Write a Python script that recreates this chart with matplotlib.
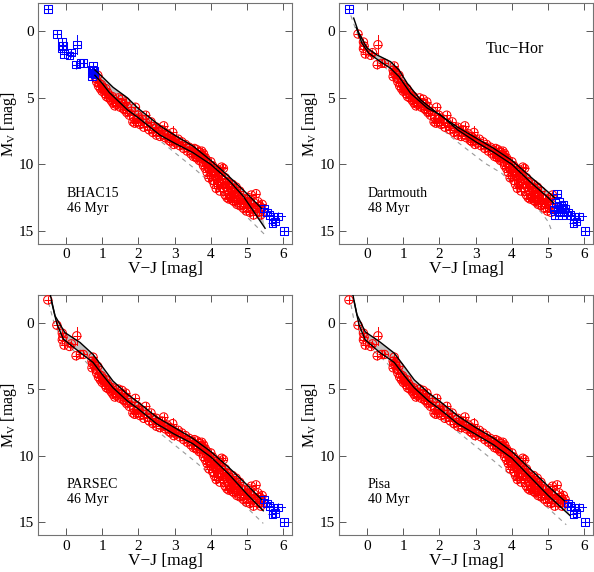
import numpy as np
import matplotlib
matplotlib.use('Agg')
import matplotlib.pyplot as plt

plt.rcParams['font.family'] = ['Liberation Serif', 'DejaVu Serif']
plt.rcParams['mathtext.fontset'] = 'custom'
plt.rcParams['mathtext.rm'] = 'Liberation Serif'
plt.rcParams['mathtext.it'] = 'Liberation Serif'

# Tuc-Hor members: (V-J, M_V)
STARS = [
    (-0.50, -1.7), (-0.25, 0.2), (-0.10, 0.8), (-0.08, 1.1), (-0.10, 1.3),
    (-0.05, 1.7), (0.10, 1.8), (0.15, 1.6), (0.30, 1.0), (0.28, 2.5),
    (0.40, 2.4), (0.48, 2.4), (0.75, 2.6), (0.72, 2.9), (0.74, 3.1),
    (0.78, 3.0), (0.72, 3.4), (0.79, 3.2),
    (0.82, 3.5), (0.85, 3.8), (0.88, 3.3), (0.90, 4.1), (0.92, 3.9),
    (0.95, 4.3), (0.98, 4.0), (1.00, 4.5), (1.02, 4.2), (1.05, 4.4),
    (1.08, 4.7), (1.10, 4.3), (1.12, 4.9), (1.15, 4.6), (1.18, 5.0),
    (1.20, 4.8), (1.25, 5.2), (1.28, 4.9), (1.30, 5.4), (1.32, 5.1),
    (1.35, 5.6), (1.38, 5.3), (1.40, 5.5), (1.45, 5.0), (1.50, 5.7),
    (1.52, 5.4), (1.55, 5.1), (1.58, 5.8), (1.60, 5.5), (1.62, 5.9),
    (1.65, 5.3), (1.68, 6.1), (1.70, 5.7), (1.75, 6.3), (1.80, 6.0),
    (1.85, 6.8), (1.88, 6.5), (1.90, 6.9), (1.92, 5.7), (1.95, 6.6),
    (1.98, 6.3), (2.00, 6.8), (2.02, 6.5), (2.05, 7.0), (2.10, 6.6),
    (2.15, 7.2), (2.20, 6.3), (2.22, 6.9), (2.25, 7.1), (2.30, 7.4),
    (2.35, 6.8), (2.40, 7.6), (2.45, 7.3), (2.50, 7.2), (2.50, 7.8),
    (2.55, 7.5), (2.60, 7.9), (2.65, 7.4), (2.70, 7.1), (2.72, 7.8),
    (2.75, 8.0), (2.80, 7.7), (2.85, 8.2), (2.88, 7.9), (2.90, 8.3),
    (2.92, 8.0), (2.95, 7.6), (2.98, 8.5), (3.00, 8.2), (3.05, 8.4),
    (3.10, 8.1), (3.15, 8.6), (3.20, 8.3), (3.25, 8.8), (3.30, 8.5),
    (3.35, 9.0), (3.40, 8.7), (3.45, 9.2), (3.48, 8.9), (3.50, 9.0),
    (3.52, 9.4), (3.55, 8.8), (3.58, 9.2), (3.60, 9.5), (3.62, 8.9),
    (3.65, 9.3), (3.68, 9.7), (3.70, 9.1), (3.72, 9.5), (3.75, 9.8),
    (3.75, 9.0), (3.78, 9.4), (3.80, 10.1), (3.80, 9.2), (3.82, 9.6),
    (3.85, 10.3), (3.85, 9.5), (3.88, 9.9), (3.90, 10.6), (3.90, 9.7),
    (3.92, 10.2), (3.95, 10.0), (3.95, 11.0), (3.98, 10.4), (4.00, 10.8),
    (4.00, 9.8), (4.02, 10.5), (4.05, 11.2), (4.05, 10.1), (4.08, 10.7),
    (4.10, 11.5), (4.10, 10.3), (4.12, 10.9), (4.15, 11.8), (4.15, 10.6),
    (4.18, 11.1), (4.20, 10.4), (4.20, 11.6), (4.22, 10.8), (4.25, 11.3),
    (4.25, 12.0), (4.28, 10.9), (4.30, 11.5), (4.30, 10.2), (4.32, 11.1),
    (4.35, 11.8), (4.35, 10.3), (4.38, 11.4), (4.40, 12.3), (4.40, 11.0),
    (4.42, 11.7), (4.45, 12.5), (4.45, 11.3), (4.48, 12.0), (4.50, 11.6),
    (4.50, 12.6), (4.52, 12.2), (4.55, 11.8), (4.55, 12.5), (4.58, 12.0),
    (4.60, 11.5), (4.60, 12.7), (4.62, 12.3), (4.65, 11.9), (4.65, 12.8),
    (4.68, 12.1), (4.70, 12.5), (4.70, 11.7), (4.72, 13.0), (4.75, 12.3),
    (4.78, 12.7), (4.80, 12.0), (4.80, 13.1), (4.85, 12.5), (4.88, 12.9),
    (4.90, 13.3), (4.92, 12.6), (4.95, 13.0), (4.98, 13.5), (5.00, 12.8),
    (5.02, 13.2), (5.05, 12.5), (5.08, 13.6), (5.10, 13.0), (5.12, 12.3),
    (5.15, 13.4), (5.18, 13.8), (5.20, 12.9), (5.25, 12.2), (5.28, 13.3),
    (5.30, 12.8), (5.32, 13.6), (5.35, 13.1), (5.38, 13.8), (5.40, 13.4),
    (5.42, 13.0), (5.47, 13.3), (5.55, 13.6), (5.62, 13.8), (5.70, 14.4),
    (5.72, 13.9), (5.78, 14.3), (5.85, 13.9), (6.02, 15.0),
]

# stars with visible error bars: (V-J, M_V, err V-J, err M_V)
ERRBARS = [(0.30, 1.0, 0.0, 0.7), (0.15, 1.6, 0.12, 0.0),
           (2.95, 7.6, 0.0, 0.45), (5.85, 13.9, 0.2, 0.0),
           (2.05, 7.0, 0.12, 0.0)]

# model isochrones: upper / lower black curves, dashed gray ZAMS
BHAC_UP = [(0.8, 2.9), (1.0, 3.4), (1.3, 4.2), (1.7, 5.0), (2.0, 5.8),
           (2.6, 7.1), (3.0, 7.8), (3.5, 8.6), (4.0, 9.7), (4.5, 10.9),
           (5.0, 12.2), (5.4, 13.3)]
BHAC_LO = [(0.8, 3.3), (1.0, 3.9), (1.2, 4.6), (1.7, 5.9), (2.0, 6.5),
           (2.6, 7.8), (3.0, 8.4), (3.5, 9.1), (4.0, 10.0), (4.5, 11.2),
           (4.9, 12.4), (5.2, 13.6), (5.5, 14.8)]
BHAC_ZAMS = [(1.0, 4.3), (1.7, 6.2), (2.5, 8.0), (3.5, 10.2), (4.5, 12.6),
             (5.5, 15.3)]

DART_UP = [(-0.37, -1.0), (-0.23, 0.1), (0.0, 1.25), (0.28, 1.78),
           (0.65, 2.28), (0.88, 2.9), (1.11, 3.9), (1.48, 5.15), (1.94, 6.15),
           (2.5, 7.2), (3.0, 8.0), (3.5, 8.8), (4.0, 9.7), (4.5, 10.9),
           (5.18, 12.5)]
DART_LO = [(-0.3, -0.3), (-0.14, 0.9), (0.05, 1.65), (0.37, 2.28),
           (0.65, 2.78), (0.88, 3.4), (1.2, 4.65), (1.67, 5.78), (2.03, 6.28),
           (2.5, 7.4), (3.0, 8.3), (3.5, 9.1), (4.0, 10.0), (4.5, 11.3),
           (5.0, 12.5), (5.15, 12.9)]
DART_ZAMS = [(-0.45, -1.2), (-0.2, 0.7), (0.1, 1.9), (0.5, 2.7), (1.0, 4.4),
             (1.7, 6.5), (2.42, 8.15), (3.25, 9.9), (3.71, 10.65),
             (4.0, 11.4), (4.5, 12.7), (4.82, 13.65), (5.0, 14.3),
             (5.1, 15.0)]

PARS_UP = [(-0.44, -2.2), (-0.30, -0.5), (-0.03, 0.75), (0.39, 1.5),
           (0.75, 2.4), (1.0, 3.3), (1.3, 4.4), (1.7, 5.4), (2.0, 6.0),
           (2.5, 7.1), (3.0, 7.9), (3.5, 8.7), (4.0, 9.7), (4.5, 10.9),
           (5.0, 12.2), (5.4, 13.3)]
PARS_LO = [(-0.40, -1.6), (-0.25, 0.1), (-0.07, 1.25), (0.39, 2.25),
           (0.75, 3.0), (1.03, 4.0), (1.3, 4.9), (1.7, 5.9), (2.0, 6.5),
           (2.5, 7.6), (3.0, 8.4), (3.5, 9.1), (4.0, 10.1), (4.5, 11.4),
           (5.0, 12.9), (5.45, 14.15)]
PARS_ZAMS = [(-0.48, -1.5), (-0.3, 0.3), (0.0, 1.6), (0.5, 2.8), (1.0, 4.3),
             (1.7, 6.3), (2.5, 8.1), (3.5, 10.3), (4.5, 12.6), (5.45, 15.1)]

PISA_UP = [(-0.40, -2.2), (-0.28, -0.6), (-0.05, 0.7), (0.35, 1.45),
           (0.75, 2.3), (1.0, 3.2), (1.3, 4.3), (1.7, 5.3), (2.0, 5.9),
           (2.5, 7.0), (3.0, 7.9), (3.5, 8.7), (4.0, 9.7), (4.5, 11.0),
           (5.0, 12.3), (5.45, 13.4)]
PISA_LO = [(-0.36, -1.6), (-0.22, 0.2), (-0.05, 1.3), (0.35, 2.25),
           (0.75, 3.0), (1.03, 4.0), (1.3, 4.9), (1.7, 5.9), (2.0, 6.5),
           (2.5, 7.6), (3.0, 8.4), (3.5, 9.2), (4.0, 10.2), (4.5, 11.6),
           (5.0, 13.0), (5.6, 14.5)]
PISA_ZAMS = [(-0.49, -2.0), (-0.35, 0.0), (0.0, 1.7), (0.5, 2.9), (1.0, 4.4),
             (1.7, 6.4), (2.5, 8.2), (3.5, 10.4), (4.5, 12.7), (5.5, 15.2)]

MODELS = ['BHAC15', 'Dartmouth', 'PARSEC', 'Pisa']
AGES = ['46 Myr', '48 Myr', '46 Myr', '40 Myr']
VJ_MIN = [0.80, -0.45, -0.60, -0.60]   # colour range covered by each model
VJ_MAX = [5.42, 5.12, 5.42, 5.50]
UPPER = [BHAC_UP, DART_UP, PARS_UP, PISA_UP]
LOWER = [BHAC_LO, DART_LO, PARS_LO, PISA_LO]
ZAMS = [BHAC_ZAMS, DART_ZAMS, PARS_ZAMS, PISA_ZAMS]

stars = np.array(STARS)
errs = np.array(ERRBARS)

fig = plt.figure(figsize=(5.94, 5.72), dpi=100)
lefts = [0.064, 0.571, 0.064, 0.571]
bottoms = [0.573, 0.573, 0.064, 0.064]

for i, name in enumerate(MODELS):
    ax = fig.add_axes([lefts[i], bottoms[i], 0.428, 0.421])
    up = np.array(UPPER[i])
    lo = np.array(LOWER[i])
    zams = np.array(ZAMS[i])

    # gray band covered by the model grid between the two isochrones
    band_x = np.concatenate([up[:, 0], lo[::-1, 0]])
    band_y = np.concatenate([up[:, 1], lo[::-1, 1]])
    ax.fill(band_x, band_y, color='0.76', lw=0, zorder=1)
    ax.plot(zams[:, 0], zams[:, 1], color='0.6', lw=0.8,
            dashes=(4, 4), zorder=2)

    inside = (stars[:, 0] >= VJ_MIN[i]) & (stars[:, 0] <= VJ_MAX[i])

    for ex, ey, dx, dy in errs:
        c = 'red' if VJ_MIN[i] <= ex <= VJ_MAX[i] else 'blue'
        if dx > 0:
            ax.plot([ex - dx, ex + dx], [ey, ey], color=c, lw=0.7, zorder=3)
        if dy > 0:
            ax.plot([ex, ex], [ey - dy, ey + dy], color=c, lw=0.7, zorder=3)

    red = stars[inside]
    blue = stars[~inside]
    ax.scatter(red[:, 0], red[:, 1], s=36, marker='o', facecolors='none',
               edgecolors='red', linewidths=0.75, zorder=3)
    ax.scatter(red[:, 0], red[:, 1], s=36, marker='+', c='red',
               linewidths=0.75, zorder=3)
    ax.scatter(blue[:, 0], blue[:, 1], s=30, marker='s', facecolors='none',
               edgecolors='blue', linewidths=0.75, zorder=3)
    ax.scatter(blue[:, 0], blue[:, 1], s=34, marker='+', c='blue',
               linewidths=0.75, zorder=3)

    ax.plot(up[:, 0], up[:, 1], color='black', lw=1.0, zorder=4)
    ax.plot(lo[:, 0], lo[:, 1], color='black', lw=1.0, zorder=4)

    ax.set_xlim(-0.77, 6.25)
    ax.set_ylim(16.0, -2.1)
    ax.set_xticks(range(0, 7))
    ax.set_yticks([0, 5, 10, 15])
    ax.tick_params(direction='in', top=True, right=True, length=5,
                   width=0.7, color='0.35', labelsize=11, pad=3)
    for sp in ax.spines.values():
        sp.set_color('0.45')
        sp.set_linewidth(0.8)
    ax.set_xlabel('V\u2212J [mag]', fontsize=12.5, labelpad=0)
    ax.set_ylabel(r'M$_{\rm V}$ [mag]', fontsize=11.5, labelpad=0)

    ax.text(0.02, 12.2, name, fontsize=10, va='center', ha='left')
    ax.text(0.02, 13.3, AGES[i], fontsize=10, va='center', ha='left')
    if i == 1:
        ax.text(4.07, 1.3, 'Tuc\u2212Hor', fontsize=11.5, va='center',
                ha='center')

fig.savefig('out.png', dpi=100)
